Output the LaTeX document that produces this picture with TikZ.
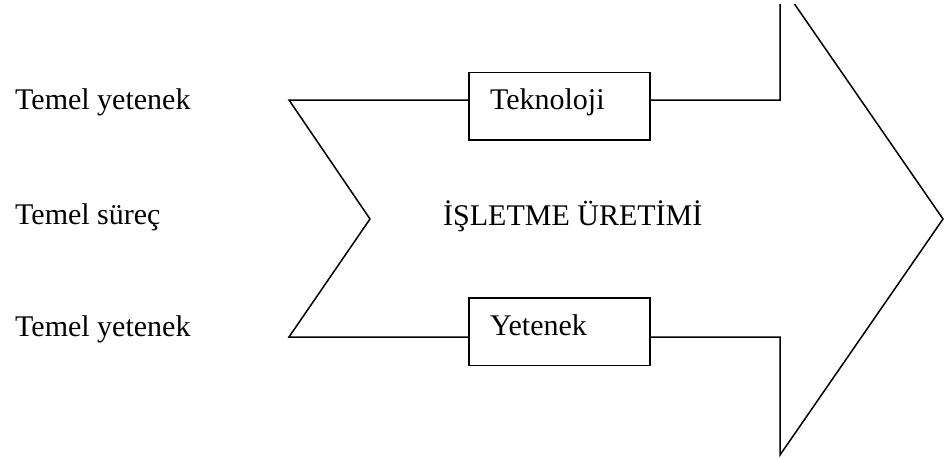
\documentclass[tikz,border=0pt]{standalone}
\usepackage{fontspec}
\setmainfont{Liberation Serif}
\begin{document}
\begin{tikzpicture}[x=1pt,y=-1pt,
  lbl/.style={anchor=base west,inner sep=0pt,font=\fontsize{30}{36}\selectfont},
  box/.style={draw,line width=1.5pt,minimum width=181pt,minimum height=67.5pt,
    text width=139pt,align=left,inner xsep=21pt,inner ysep=0pt,
    text height=20pt,text depth=12.5pt,font=\fontsize{30}{36}\selectfont},
  outline/.style={line width=1.5pt,line join=miter}]
\useasboundingbox (0,0) rectangle (945,458);
% labels
\node[lbl] (l1) at (15,109) {Temel yetenek};
\node[lbl] (l2) at (15,224) {Temel süreç};
\node[lbl] (l3) at (15,336) {Temel yetenek};
\node[lbl] (mid) at (443,225) {İŞLETME ÜRETİMİ};
% boxes
\node[box] (tek) at (559.5,106) {Teknoloji};
\node[box] (yet) at (559.5,331.5) {Yetenek};
% outline coordinates
\coordinate (tl) at (289,100);
\coordinate (notch) at (370,219);
\coordinate (bl) at (289,337);
\coordinate (tr) at (780,100);
\coordinate (tiptop) at (780,-17);
\coordinate (tip) at (943,219);
\coordinate (tipbot) at (780,455);
\coordinate (br) at (780,337);
% outline
\begin{scope}
\clip (0,4.5) rectangle (945,458);
\draw[outline] (tek.west |- tl) -- (tl) -- (notch) -- (bl) -- (yet.west |- bl);
\draw[outline] (tek.east |- tr) -- (tr) -- (tiptop) -- (tip) -- (tipbot) -- (br) -- (yet.east |- br);
\end{scope}
\end{tikzpicture}
\end{document}
